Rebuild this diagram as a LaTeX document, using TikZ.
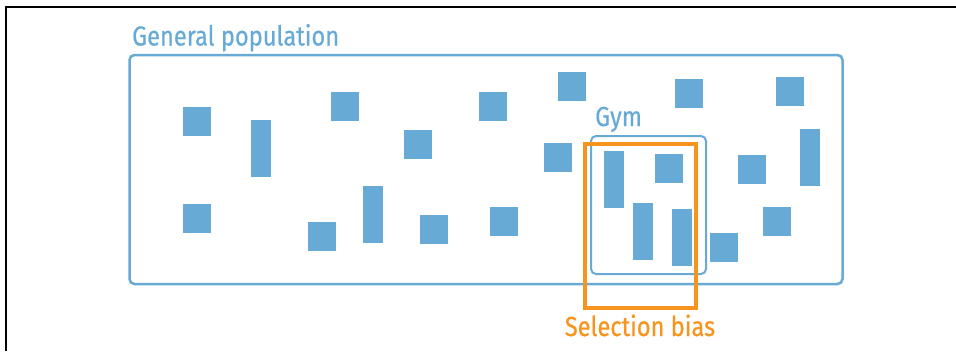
\documentclass[tikz,border=0pt]{standalone}
\usepackage{fontspec}
\setsansfont{Fira Sans}[FakeStretch=0.86, FakeBold=0.5]
\definecolor{popblue}{RGB}{103,170,214}
\definecolor{biasorange}{RGB}{247,148,30}

\begin{document}
\begin{tikzpicture}[x=1pt, y=-1pt, font=\sffamily\fontsize{27.5}{30}\selectfont]
    \useasboundingbox (0,0) rectangle (956,351);

    % ─────────── frame ────────────────────────────────────────────────
    \draw[line width=1.5pt, black] (956,7) -- (6,7) -- (6,351);

    % ─────────── General population ───────────────────────────────────
    \draw[line width=2.5pt, popblue, rounded corners=5pt] (129.5,55) rectangle (842.5,284);
    \node[popblue, anchor=base west, inner sep=0pt] (genpop) at (132,45.5) {General population};

    % squares
    \foreach \x/\y in {183/107, 331/92, 404/130, 479/92, 558/72, 675/79, 776/77, 544/143,
                       655/154, 738/155, 183/204, 308/222, 420/215, 490/207, 710/233, 763/207}
      \fill[popblue] (\x,\y) rectangle ++(28,29);
    % tall ones
    \foreach \x/\y in {251/120, 604/151, 800/129, 363/186, 633/203, 672/209}
      \fill[popblue] (\x,\y) rectangle ++(20,57);

    % ─────────── Gym ──────────────────────────────────────────────────
    \draw[line width=2pt, popblue, rounded corners=5pt] (591,136) rectangle (706,274);
    \node[popblue, anchor=base west, inner sep=0pt] (gym) at (595,126) {Gym};

    % ─────────── Selection bias ───────────────────────────────────────
    \draw[line width=4pt, biasorange] (584.5,143.5) rectangle (696,308);
    \node[biasorange, anchor=base, inner sep=0pt] (bias) at (640,336) {Selection bias};
\end{tikzpicture}
\end{document}
